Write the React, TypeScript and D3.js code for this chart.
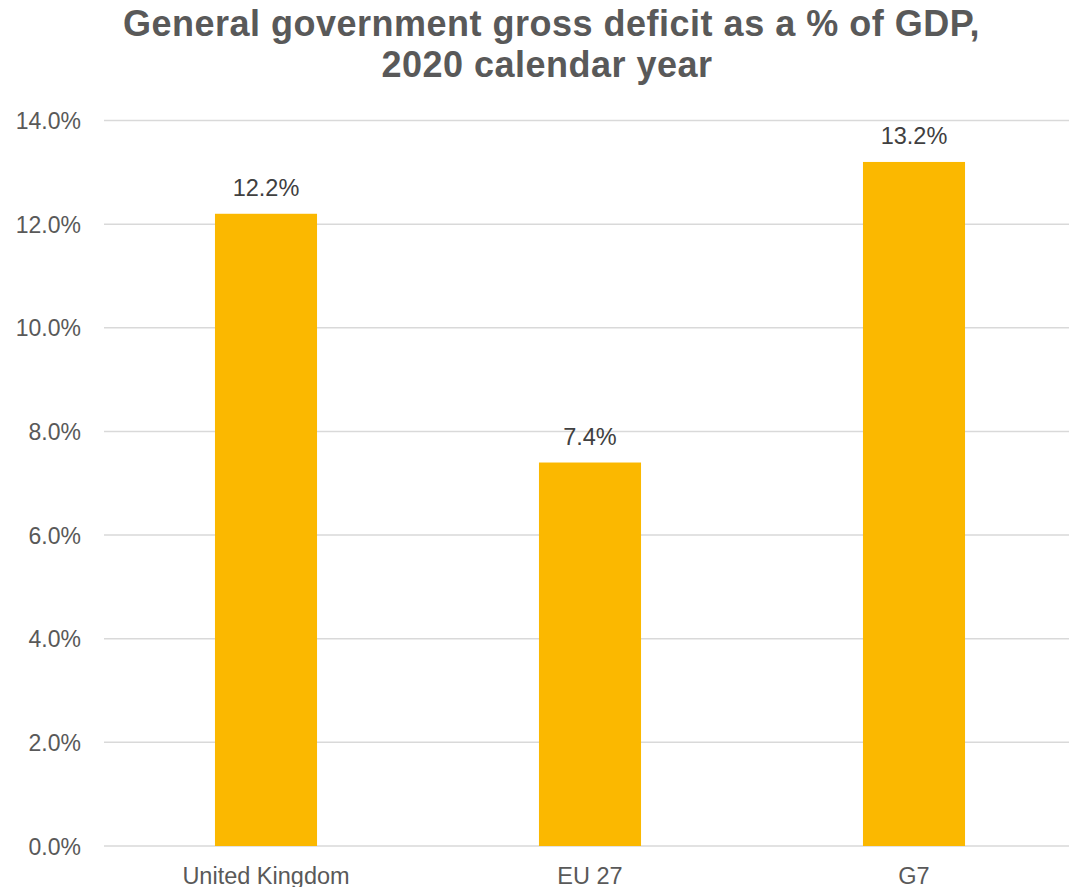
import React, { useEffect } from "react";
import * as d3 from "d3";

const categories = ["United Kingdom", "EU 27", "G7"];
const deficitValues = [12.2, 7.4, 13.2];
const yTicks = [0, 2, 4, 6, 8, 10, 12, 14];
const titleLines = ["General government gross deficit as a % of GDP,", "2020 calendar year"];

const W = 1069;
const H = 887;

export default function App() {
  useEffect(() => {
    document.body.style.margin = "0";
  }, []);

  const x = d3
    .scaleBand<string>()
    .domain(categories)
    .range([104, 1076])
    .paddingInner(0.685)
    .paddingOuter(0.3425);
  const y = d3.scaleLinear().domain([0, 14]).range([846, 120.5]);
  const font = "'Liberation Sans', Arial, sans-serif";
  const fmt = (v: number) => v.toFixed(1) + "%";

  return (
    <svg width={W} height={H} style={{ position: "absolute", left: 0, top: 0, fontFamily: font }}>
      <rect width={W} height={H} fill="#ffffff" />
      {titleLines.map((t, i) => (
        <text
          key={t}
          x={i === 0 ? 551.5 : 547}
          y={i === 0 ? 36 : 77}
          textAnchor="middle"
          fontSize={36}
          fontWeight="bold"
          fill="#595959"
          letterSpacing={0.5}
        >
          {t}
        </text>
      ))}
      {yTicks.map((t) => (
        <g key={t}>
          <line x1={104} x2={W} y1={y(t)} y2={y(t)} stroke="#D9D9D9" strokeWidth={1.5} />
          <text x={81} y={y(t) + 8.5} textAnchor="end" fontSize={23} fill="#595959">
            {fmt(t)}
          </text>
        </g>
      ))}
      {categories.map((c, i) => (
        <g key={c}>
          <rect
            x={x(c)}
            y={y(deficitValues[i])}
            width={x.bandwidth()}
            height={y(0) - y(deficitValues[i])}
            fill="#FBB800"
          />
          <text
            x={(x(c) as number) + x.bandwidth() / 2}
            y={y(deficitValues[i]) - 17.5}
            textAnchor="middle"
            fontSize={23.5}
            fill="#404040"
          >
            {fmt(deficitValues[i])}
          </text>
          <text
            x={(x(c) as number) + x.bandwidth() / 2}
            y={884}
            textAnchor="middle"
            fontSize={23.5}
            fill="#595959"
          >
            {c}
          </text>
        </g>
      ))}
    </svg>
  );
}
